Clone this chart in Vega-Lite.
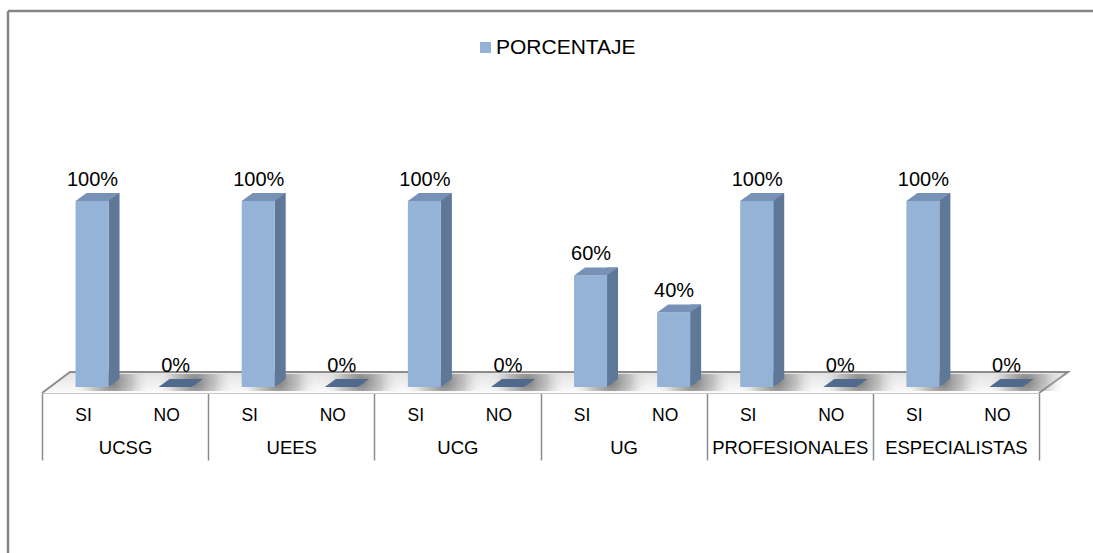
{
  "$schema": "https://vega.github.io/schema/vega-lite/v6.json",
  "usermeta": {"embedOptions": {"actions": false}},
  "width": 1085,
  "height": 542,
  "autosize": {"type": "none"},
  "padding": {"left": 8, "top": 11, "right": 0, "bottom": 0},
  "background": "white",
  "config": {
    "view": {"stroke": "#868686", "strokeWidth": 2.5, "strokeDash": [1085, 1627, 542, 0]},
    "font": "Liberation Sans",
    "text": {"font": "Liberation Sans"}
  },
  "data": {
    "values": [
      {"id": "UCSG-SI", "grupo": "UCSG", "respuesta": "SI", "valor": 1},
      {"id": "UCSG-NO", "grupo": "UCSG", "respuesta": "NO", "valor": 0},
      {"id": "UEES-SI", "grupo": "UEES", "respuesta": "SI", "valor": 1},
      {"id": "UEES-NO", "grupo": "UEES", "respuesta": "NO", "valor": 0},
      {"id": "UCG-SI", "grupo": "UCG", "respuesta": "SI", "valor": 1},
      {"id": "UCG-NO", "grupo": "UCG", "respuesta": "NO", "valor": 0},
      {"id": "UG-SI", "grupo": "UG", "respuesta": "SI", "valor": 0.6},
      {"id": "UG-NO", "grupo": "UG", "respuesta": "NO", "valor": 0.4},
      {"id": "PROFESIONALES-SI", "grupo": "PROFESIONALES", "respuesta": "SI", "valor": 1},
      {"id": "PROFESIONALES-NO", "grupo": "PROFESIONALES", "respuesta": "NO", "valor": 0},
      {"id": "ESPECIALISTAS-SI", "grupo": "ESPECIALISTAS", "respuesta": "SI", "valor": 1},
      {"id": "ESPECIALISTAS-NO", "grupo": "ESPECIALISTAS", "respuesta": "NO", "valor": 0}
    ]
  },
  "layer": [
    {
      "transform": [{"filter": "datum.id == 'UCSG-SI'"}],
      "mark": {
        "type": "point",
        "shape": "M-83.08,6L-55.08,-15L942.92,-15L913.92,6",
        "size": 4,
        "filled": true,
        "opacity": 1,
        "fill": {
          "gradient": "linear", "x1": 0, "y1": 0, "x2": 0, "y2": 1,
          "stops": [{"offset": 0, "color": "#E2E2E2"}, {"offset": 1, "color": "#FBFBFB"}]
        },
        "stroke": "#8C8C8C",
        "strokeWidth": 2
      },
      "encoding": {
        "x": {
          "field": "grupo",
          "type": "nominal",
          "scale": {
            "domain": ["UCSG", "UEES", "UCG", "UG", "PROFESIONALES", "ESPECIALISTAS"],
            "range": [34, 1031],
            "paddingInner": 0,
            "paddingOuter": 0
          },
          "axis": {
            "orient": "bottom",
            "offset": -160,
            "title": null,
            "grid": false,
            "tickBand": "extent",
            "tickSize": 67,
            "tickColor": "#8C8C8C",
            "tickWidth": 1.5,
            "domain": true,
            "domainColor": "#C8C8C8",
            "domainWidth": 1,
            "labelAngle": 0,
            "labelFont": "Liberation Sans",
            "labelFontSize": 18.5,
            "labelColor": "#000000",
            "labelPadding": -21.5
          }
        },
        "y": {
          "datum": 0,
          "type": "quantitative",
          "scale": {"domain": [0, 1], "range": [376, 190]},
          "axis": null
        }
      }
    },
    {
      "encoding": {
        "x": {
          "field": "id",
          "type": "nominal",
          "scale": {
            "domain": ["UCSG-SI", "UCSG-NO", "UEES-SI", "UEES-NO", "UCG-SI", "UCG-NO", "UG-SI", "UG-NO", "PROFESIONALES-SI", "PROFESIONALES-NO", "ESPECIALISTAS-SI", "ESPECIALISTAS-NO"],
            "range": [34, 1031],
            "paddingInner": 0,
            "paddingOuter": 0
          },
          "axis": {
            "orient": "bottom",
            "offset": -160,
            "title": null,
            "grid": false,
            "ticks": false,
            "domain": false,
            "labelAngle": 0,
            "labelExpr": "split(datum.value, '-')[1]",
            "labelFont": "Liberation Sans",
            "labelFontSize": 17.5,
            "labelColor": "#000000",
            "labelPadding": 13.2
          }
        },
        "y": {"field": "valor", "type": "quantitative", "axis": null}
      },
      "layer": [
        {
          "mark": {
            "type": "point",
            "shape": "M-20,-13L60,-13L60,4L-20,4Z",
            "size": 4,
            "filled": true,
            "opacity": 1,
            "xOffset": 8.5,
            "fill": {
              "gradient": "radial", "x1": 0.5, "y1": 0.5, "r1": 0, "x2": 0.5, "y2": 0.5, "r2": 0.5,
              "stops": [
                {"offset": 0, "color": "rgba(95,95,95,0.8)"},
                {"offset": 0.5, "color": "rgba(140,140,140,0.45)"},
                {"offset": 1, "color": "rgba(255,255,255,0)"}
              ]
            }
          },
          "encoding": {"y": {"datum": 0, "type": "quantitative"}}
        },
        {
          "mark": {"type": "bar", "width": 11, "xOffset": 30.5, "yOffset": -8, "y2Offset": -8, "color": "#5F7898"}
        },
        {
          "mark": {"type": "point", "shape": "M16.5,0L16.5,-8L27.5,-8Z", "size": 4, "filled": true, "opacity": 1, "color": "#5F7898", "xOffset": 8.5},
          "encoding": {"y": {"datum": 0, "type": "quantitative"}}
        },
        {
          "mark": {"type": "bar", "width": 33, "xOffset": 8.5},
          "encoding": {
            "color": {
              "datum": "PORCENTAJE",
              "type": "nominal",
              "scale": {"range": ["#95B3D7"]},
              "legend": {
                "orient": "none",
                "legendX": 467,
                "legendY": 26,
                "title": null,
                "padding": 0,
                "symbolType": "square",
                "symbolSize": 121,
                "symbolStrokeWidth": 0,
                "labelOffset": 0,
                "labelFont": "Liberation Sans",
                "labelFontSize": 21,
                "labelColor": "#000000"
              }
            }
          }
        },
        {
          "mark": {"type": "point", "shape": "M-16.5,0L16.5,0L27.5,-8L-5.5,-8Z", "size": 4, "filled": true, "opacity": 1, "xOffset": 8.5},
          "encoding": {
            "color": {
              "condition": {"test": "datum.valor == 0", "value": "#4F6A8D"},
              "value": "#7791B7"
            }
          }
        },
        {
          "mark": {"type": "text", "dx": 9, "dy": -15.5, "baseline": "alphabetic", "align": "center", "font": "Liberation Sans", "fontSize": 20, "color": "#000000"},
          "encoding": {"text": {"field": "valor", "type": "quantitative", "format": ".0%"}}
        }
      ]
    }
  ],
  "resolve": {"scale": {"x": "independent"}}
}
